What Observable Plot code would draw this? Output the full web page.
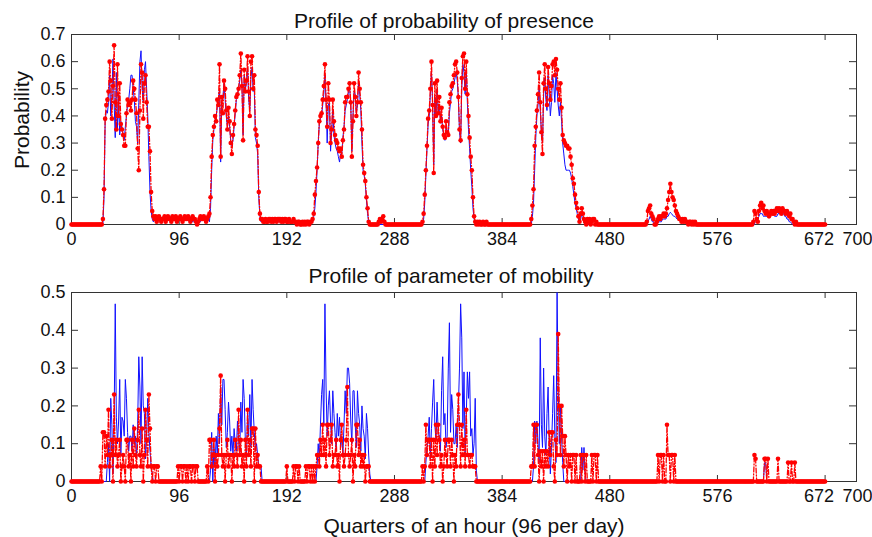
<!DOCTYPE html>
<html><head><meta charset="utf-8">
<script src="https://cdn.jsdelivr.net/npm/d3@7"></script>
<script src="https://cdn.jsdelivr.net/npm/@observablehq/plot@0.6"></script>
<style>
body{margin:0;background:#fff}
#wrap{position:relative;width:872px;height:537px;overflow:hidden;font-family:"Liberation Sans",Arial,Helvetica,sans-serif;background:#fff}
#wrap svg{position:absolute;left:0}
</style></head><body><div id="wrap"></div>
<script>
// ---- tick labels ----
const xTicks = [0, 96, 192, 288, 384, 480, 576, 672, 700];
const yTicksPresence = [0, 0.1, 0.2, 0.3, 0.4, 0.5, 0.6, 0.7];
const yTicksMobility = [0, 0.1, 0.2, 0.3, 0.4, 0.5];
const titles = ["Profile of probability of presence", "Profile of parameter of mobility"];
const xLabel = "Quarters of an hour (96 per day)";
const yLabel = "Probability";

// ---- series: [start quarter, values...]; quarters not listed are 0 ----
const presenceObserved = [
 [28,[0.02,0.13,0.39,0.44,0.46,0.49,0.60,0.53,0.39,0.51,0.66,0.45,0.35,0.59,0.40,0.52,0.37,0.35,0.33,0.29,0.29,0.41,0.46,0.44,0.45,0.42,0.46,0.53,0.50,0.46,0.41,0.28,0.20,0.42,0.59,0.56,0.39,0.52,0.55,0.45,0.36,0.36,0.27,0.12,0.05,0.03]],
 [74,[0.02,0.03,0.01,0.02,0.03,0.02,0.01,0.02,0.02,0.03,0.01,0.02,0.03,0.02,0.02,0.01,0.03,0.02,0.02,0.03,0.01,0.02,0.02,0.03,0.02,0.01,0.02,0.03,0.02,0.02,0.03,0.02,0.01,0.02,0.03,0.02,0.02,0.01,0.00,0.01,0.02,0.03,0.02,0.02,0.03,0.02,0.01,0.02,0.03]],
 [123,[0.04,0.10,0.25,0.33,0.36,0.40,0.38,0.46,0.44,0.59,0.25,0.47,0.41,0.53,0.50,0.42,0.35,0.43,0.38,0.30,0.26,0.33,0.37,0.42,0.47,0.48,0.50,0.55,0.63,0.51,0.31,0.57,0.49,0.53,0.62,0.49,0.40,0.60,0.62,0.50,0.55,0.35,0.33,0.29,0.12,0.04,0.02]],
 [170,[0.02,0.01,0.01,0.02,0.01,0.01,0.02,0.02,0.01,0.02,0.01,0.02,0.02,0.01,0.02,0.02,0.02,0.01,0.02,0.01,0.02,0.02,0.01,0.01,0.02,0.01,0.01,0.01,0.02,0.01,0.01,0.00,0.01,0.01,0.00,0.00,0.01,0.00,0.01,0.00,0.01,0.01,0.00,0.01,0.01,0.02,0.04]],
 [217,[0.11,0.16,0.21,0.30,0.38,0.40,0.41,0.46,0.51,0.59,0.46,0.36,0.52,0.46,0.30,0.35,0.46,0.38,0.33,0.31,0.30,0.28,0.27,0.28,0.25,0.31,0.35,0.45,0.47,0.47,0.50,0.52,0.45,0.25,0.38,0.52,0.47,0.40,0.45,0.56,0.50,0.45,0.35,0.22,0.19,0.16,0.10,0.06,0.01]],
 [274,[0.01,0.02,0.01,0.02,0.03,0.01]],
 [313,[0.01,0.04,0.11,0.20,0.29,0.39,0.42,0.50,0.60,0.44,0.19,0.52,0.40,0.53,0.41,0.47,0.38,0.43,0.36,0.33,0.32,0.38,0.34,0.33,0.45,0.48,0.51,0.52,0.55,0.59,0.60,0.56,0.47,0.35,0.31,0.54,0.62,0.63,0.50,0.60,0.48,0.40,0.32,0.25,0.20,0.10,0.03,0.01,0.00,0.01,0.00,0.01,0.00,0.00,0.01,0.00,0.00,0.01]],
 [410,[0.02,0.07,0.13,0.29,0.36,0.42,0.48,0.56,0.45,0.34,0.26,0.52,0.59,0.50,0.44,0.58,0.52,0.46,0.51,0.59,0.60,0.55,0.61,0.57,0.50,0.46,0.52,0.43,0.33,0.31,0.30,0.29,0.29,0.28,0.28,0.25,0.22,0.17,0.15,0.11,0.08,0.06,0.03,0.01,0.04,0.06,0.04,0.02,0.01,0.00,0.02,0.01,0.02,0.00,0.01,0.02,0.02,0.00,0.01]],
 [513,[0.01,0.05,0.06,0.07,0.04,0.03,0.02,0.00,0.00,0.01,0.02,0.03,0.02,0.03,0.03,0.04,0.03,0.04,0.06,0.09,0.12,0.15,0.12,0.10,0.09,0.07,0.05,0.04,0.03,0.02,0.02,0.01,0.02,0.01,0.02,0.01,0.01,0.00,0.01,0.01,0.00,0.01,0.00,0.01,0.00]],
 [607,[0.00,0.01,0.05,0.04,0.02,0.01,0.05,0.07,0.08,0.06,0.07,0.05,0.04,0.05,0.04,0.03,0.04,0.05,0.04,0.05,0.04,0.05,0.06,0.05,0.06,0.05,0.04,0.06,0.05,0.05,0.04,0.05,0.04,0.03,0.04,0.02,0.02,0.01,0.00,0.01,0.00]]
];
const presenceModel = [
 [28,[0.00,0.10,0.38,0.42,0.41,0.45,0.55,0.40,0.47,0.61,0.45,0.32,0.56,0.35,0.48,0.33,0.38,0.36,0.33,0.31,0.36,0.40,0.44,0.46,0.50,0.55,0.55,0.50,0.46,0.38,0.36,0.30,0.45,0.60,0.64,0.50,0.45,0.57,0.60,0.50,0.40,0.25,0.12,0.05,0.02,0.01]],
 [74,[0.02,0.02,0.02,0.02,0.02,0.02,0.02,0.02,0.02,0.02,0.02,0.02,0.02,0.02,0.02,0.02,0.02,0.02,0.02,0.02,0.02,0.02,0.02,0.02,0.02,0.02,0.02,0.02,0.02,0.02,0.02,0.02,0.02,0.02,0.01,0.01,0.01,0.01,0.01,0.01,0.01,0.01,0.02,0.02,0.02,0.02,0.02,0.02,0.02]],
 [123,[0.01,0.06,0.20,0.31,0.35,0.38,0.40,0.43,0.46,0.50,0.23,0.45,0.47,0.52,0.46,0.40,0.36,0.40,0.36,0.31,0.29,0.31,0.36,0.41,0.46,0.48,0.50,0.53,0.57,0.52,0.33,0.55,0.50,0.52,0.58,0.46,0.42,0.54,0.58,0.49,0.50,0.32,0.30,0.26,0.10,0.03,0.01]],
 [170,[0.02,0.01,0.01,0.01,0.01,0.01,0.01,0.01,0.01,0.01,0.01,0.01,0.01,0.01,0.01,0.01,0.01,0.01,0.01,0.01,0.01,0.01,0.01,0.01,0.01,0.01,0.01,0.01,0.01,0.01,0.01,0.01,0.01,0.01,0.01,0.01,0.01,0.01,0.01,0.01,0.01,0.01,0.01,0.01,0.01,0.01,0.03]],
 [217,[0.06,0.12,0.20,0.30,0.37,0.39,0.40,0.44,0.48,0.55,0.45,0.30,0.44,0.45,0.27,0.34,0.42,0.33,0.30,0.28,0.27,0.25,0.23,0.26,0.26,0.32,0.36,0.42,0.44,0.46,0.49,0.50,0.45,0.27,0.40,0.49,0.48,0.41,0.44,0.52,0.48,0.42,0.30,0.20,0.18,0.15,0.09,0.04,0.01]],
 [313,[0.00,0.02,0.08,0.18,0.28,0.37,0.40,0.48,0.56,0.45,0.22,0.47,0.40,0.50,0.41,0.44,0.38,0.40,0.35,0.33,0.31,0.36,0.34,0.33,0.41,0.45,0.49,0.50,0.52,0.54,0.56,0.53,0.46,0.34,0.30,0.50,0.59,0.56,0.48,0.57,0.45,0.35,0.28,0.20,0.14,0.06,0.02,0.01,0.00,0.00]],
 [410,[0.00,0.03,0.08,0.20,0.32,0.40,0.44,0.51,0.42,0.34,0.30,0.48,0.54,0.46,0.42,0.55,0.48,0.40,0.45,0.55,0.52,0.45,0.56,0.50,0.44,0.40,0.45,0.38,0.30,0.26,0.22,0.20,0.20,0.20,0.20,0.19,0.17,0.14,0.11,0.08,0.06,0.04,0.02,0.01,0.02,0.04,0.03,0.01,0.00,0.00,0.01,0.00]],
 [513,[0.00,0.01,0.02,0.03,0.02,0.01,0.01,0.00,0.00,0.00,0.01,0.01,0.01,0.01,0.02,0.02,0.02,0.02,0.03,0.03,0.04,0.045,0.04,0.035,0.03,0.03,0.025,0.02,0.02,0.015,0.01,0.01,0.01,0.01,0.01,0.005,0.005,0.00]],
 [607,[0.00,0.00,0.00,0.02,0.01,0.02,0.03,0.04,0.04,0.04,0.03,0.03,0.03,0.03,0.03,0.04,0.04,0.04,0.04,0.035,0.03,0.03,0.03,0.04,0.04,0.04,0.04,0.04,0.04,0.03,0.03,0.02,0.02,0.01,0.01,0.005,0.00]]
];
const mobilityObserved = [
 [26,[0.04,0.00,0.13,0.13,0.04,0.12,0.07,0.19,0.04,0.07,0.11,0.00,0.23,0.07,0.11,0.04,0.07,0.11,0.00,0.04,0.07,0.04,0.00,0.11,0.11,0.04,0.07,0.00,0.11,0.04,0.14,0.07,0.04,0.11,0.19,0.07,0.04,0.14,0.00,0.07,0.19,0.11,0.04,0.23,0.14,0.04,0.00,0.04,0.04,0.00,0.04,0.04,0.00]],
 [95,[0.04,0.00,0.04,0.04,0.00,0.04,0.04,0.00,0.04,0.00,0.04,0.04,0.00,0.04,0.04,0.00,0.04,0.04,0.00]],
 [121,[0.04,0.00,0.11,0.11,0.04,0.07,0.11,0.00,0.07,0.04,0.07,0.14,0.28,0.07,0.04,0.07,0.00,0.07,0.11,0.04,0.07,0.07,0.00,0.07,0.04,0.11,0.07,0.04,0.19,0.07,0.11,0.04,0.07,0.00,0.11,0.04,0.19,0.07,0.11,0.04,0.14,0.14,0.00,0.14,0.04,0.07,0.04,0.04,0.00,0.00]],
 [192,[0.04,0.00,0.00,0.00,0.00,0.00,0.04,0.00,0.04,0.04,0.00,0.04,0.00,0.00,0.00,0.00,0.00,0.04,0.00,0.04,0.04,0.00,0.04,0.00,0.04]],
 [217,[0.00,0.04,0.07,0.07,0.04,0.11,0.07,0.15,0.07,0.11,0.04,0.15,0.15,0.07,0.11,0.15,0.04,0.07,0.07,0.11,0.04,0.07,0.00,0.11,0.15,0.07,0.04,0.07,0.11,0.25,0.07,0.04,0.07,0.11,0.00,0.07,0.04,0.15,0.15,0.07,0.11,0.04,0.07,0.04,0.07,0.00,0.04,0.04,0.04,0.00]],
 [313,[0.04,0.00,0.04,0.15,0.07,0.11,0.11,0.04,0.11,0.00,0.11,0.04,0.15,0.07,0.15,0.11,0.04,0.07,0.00,0.04,0.11,0.07,0.04,0.11,0.11,0.04,0.11,0.07,0.00,0.07,0.04,0.15,0.23,0.15,0.04,0.15,0.07,0.11,0.04,0.19,0.07,0.07,0.04,0.07,0.07,0.04,0.04,0.04,0.00,0.00]],
 [409,[0.00,0.04,0.04,0.15,0.04,0.15,0.15,0.07,0.00,0.08,0.04,0.08,0.00,0.08,0.04,0.08,0.04,0.13,0.07,0.13,0.13,0.04,0.00,0.11,0.07,0.39,0.20,0.07,0.20,0.12,0.04,0.12,0.07,0.00,0.07,0.04,0.07,0.00,0.07,0.07,0.00,0.07,0.00,0.00,0.00,0.07,0.00,0.07,0.07,0.00,0.07,0.00,0.00,0.00,0.00,0.07,0.00,0.07,0.07,0.00,0.07,0.00]],
 [522,[0.00,0.07,0.00,0.07,0.07,0.00,0.07,0.00,0.00,0.15,0.07,0.07,0.00,0.07,0.07,0.00,0.07,0.00]],
 [608,[0.00,0.07,0.06,0.00,0.00,0.00,0.00,0.00,0.00,0.00,0.06,0.06,0.00,0.06,0.00,0.00,0.00,0.00,0.00,0.00,0.00,0.00,0.06,0.00,0.00,0.00,0.00,0.00,0.00,0.00,0.00,0.05,0.00,0.00,0.05,0.00,0.00,0.05,0.00]]
];
const mobilityModel = [
 [31,[0.00,0.05,0.10,0.00,0.22,0.15,0.02,0.16,0.47,0.17,0.10,0.16,0.27,0.07,0.17,0.16,0.12,0.27,0.22,0.13,0.08,0.12,0.12,0.08,0.15,0.10,0.12,0.06,0.15,0.33,0.25,0.10,0.33,0.20,0.18,0.06,0.12,0.22,0.13,0.08,0.04,0.02,0.00]],
 [123,[0.00,0.03,0.13,0.00,0.09,0.04,0.12,0.07,0.18,0.10,0.25,0.15,0.27,0.27,0.19,0.09,0.13,0.21,0.16,0.08,0.12,0.07,0.14,0.10,0.08,0.16,0.11,0.07,0.21,0.13,0.27,0.22,0.11,0.06,0.18,0.12,0.23,0.09,0.27,0.19,0.13,0.08,0.10,0.07,0.04,0.04,0.04,0.00,0.00]],
 [217,[0.00,0.00,0.04,0.10,0.06,0.15,0.23,0.27,0.15,0.47,0.25,0.12,0.20,0.24,0.16,0.10,0.24,0.18,0.13,0.08,0.18,0.12,0.17,0.09,0.12,0.07,0.15,0.24,0.18,0.30,0.30,0.26,0.16,0.10,0.24,0.24,0.15,0.09,0.24,0.18,0.15,0.08,0.20,0.14,0.12,0.06,0.18,0.14,0.07,0.02,0.00]],
 [314,[0.00,0.00,0.05,0.09,0.12,0.17,0.06,0.14,0.21,0.27,0.15,0.11,0.21,0.13,0.12,0.08,0.24,0.33,0.15,0.18,0.09,0.12,0.30,0.42,0.13,0.23,0.19,0.10,0.10,0.15,0.09,0.20,0.30,0.47,0.38,0.14,0.29,0.07,0.17,0.29,0.22,0.29,0.12,0.14,0.07,0.10,0.22,0.03,0.00]],
 [411,[0.00,0.04,0.16,0.10,0.16,0.10,0.05,0.38,0.15,0.09,0.30,0.12,0.07,0.18,0.25,0.10,0.02,0.09,0.18,0.28,0.12,0.05,0.50,0.25,0.10,0.20,0.12,0.05,0.00]],
 [454,[0.00,0.09,0.03,0.09,0.02,0.00]],
 [617,[0.00,0.05,0.05,0.00]]
];

// ---- build rows (quarters 0..672) ----
const quarters = d3.range(0, 673);
function expand(blocks) {
  const a = quarters.map(() => 0);
  for (const [s, vals] of blocks) vals.forEach((v, i) => { a[s + i] = v; });
  return a;
}
function rows(obsBlocks, modelBlocks) {
  const o = expand(obsBlocks), m = expand(modelBlocks);
  return quarters.map(q => ({q, obs: o[q], model: m[q]}));
}
const presenceRows = rows(presenceObserved, presenceModel);
const mobilityRows = rows(mobilityObserved, mobilityModel);

const FONT = '"Liberation Sans", Arial, Helvetica, sans-serif';
const fmt = d => d === 0 ? "0" : d.toFixed(1);
const xMain = xTicks.slice(0, 7);

function panel(data, yDomain, yTicks, height, marginTop, marginBottom) {
  const W = 872, ML = 71, MR = 16;
  const plotH = height - marginTop - marginBottom;
  const plotW = W - ML - MR;
  return Plot.plot({
    width: W, height, marginLeft: ML, marginRight: MR, marginTop, marginBottom,
    style: {fontFamily: FONT, fontSize: "18px", color: "#111", background: "transparent", overflow: "visible"},
    x: {domain: [0, 700], label: null},
    y: {domain: yDomain, label: null},
    marks: [
      Plot.frame({stroke: "#333", strokeWidth: 1}),
      Plot.tickX(xTicks, {x: d => d, insetTop: plotH - 6, stroke: "#333"}),
      Plot.tickX(xTicks, {x: d => d, insetBottom: plotH - 6, stroke: "#333"}),
      Plot.tickY(yTicks, {y: d => d, insetRight: plotW - 7, stroke: "#333"}),
      Plot.tickY(yTicks, {y: d => d, insetLeft: plotW - 7, stroke: "#333"}),
      Plot.axisX({ticks: xMain, tickSize: 0, tickPadding: 8, tickFormat: d => String(d), fill: "#111"}),
      Plot.axisX({ticks: [672], tickSize: 0, tickPadding: 8, tickFormat: d => String(d), fill: "#111", dx: -6}),
      Plot.axisX({ticks: [700], tickSize: 0, tickPadding: 8, tickFormat: d => String(d), fill: "#111", dx: 1}),
      Plot.axisY({ticks: yTicks, tickSize: 0, tickPadding: 6, tickFormat: fmt, fill: "#111"}),
      Plot.lineY(data, {x: "q", y: "model", stroke: "#1010ff", strokeWidth: 1}),
      Plot.lineY(data, {x: "q", y: "obs", stroke: "#ff0000", strokeWidth: 1.3, strokeDasharray: "5,2,1,2"}),
      Plot.dot(data, {x: "q", y: "obs", r: 2.3, fill: "#ff0000", stroke: "none"})
    ]
  });
}

const wrap = document.getElementById("wrap");
const topSvg = panel(presenceRows, [0, 0.7], yTicksPresence, 260, 34, 36);
topSvg.style.top = "0px";
wrap.appendChild(topSvg);
const botSvg = panel(mobilityRows, [0, 0.5], yTicksMobility, 277, 32, 56);
botSvg.style.top = "260px";
wrap.appendChild(botSvg);

// ---- overlay texts ----
const ov = d3.select(wrap).append("svg")
  .attr("width", 872).attr("height", 537)
  .style("top", "0px").style("pointer-events", "none")
  .attr("font-family", FONT).attr("fill", "#111");
ov.append("text").attr("x", 444).attr("y", 27.5).attr("text-anchor", "middle").attr("font-size", 21).text(titles[0]);
ov.append("text").attr("x", 451).attr("y", 283).attr("text-anchor", "middle").attr("font-size", 21).text(titles[1]);
ov.append("text").attr("x", 474).attr("y", 533).attr("text-anchor", "middle").attr("font-size", 21).text(xLabel);
ov.append("text").attr("transform", "translate(28.5,120) rotate(-90)").attr("text-anchor", "middle").attr("font-size", 21).text(yLabel);
</script></body></html>
